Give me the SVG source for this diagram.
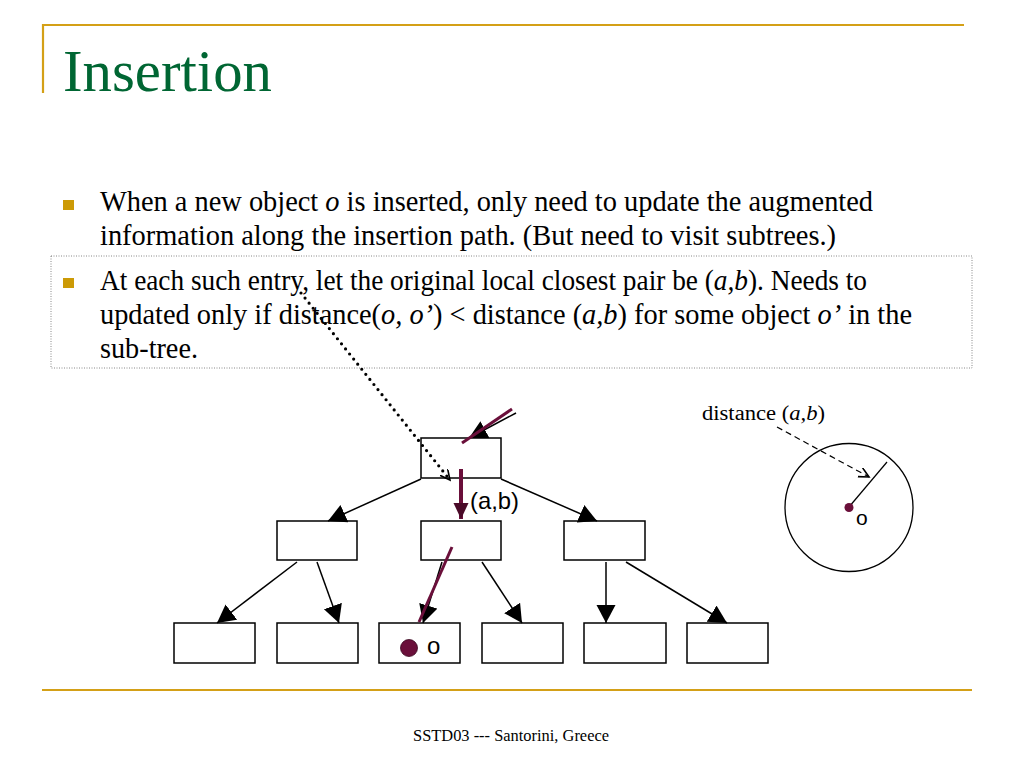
<svg xmlns="http://www.w3.org/2000/svg" width="1024" height="768" viewBox="0 0 1024 768">
<style>
.rule{stroke:#d4a017;stroke-width:2.2;fill:none}
.body{font-family:"Liberation Serif","Times New Roman",serif;font-size:30px;fill:#000}
.bul{fill:#cc9a06}
.box{fill:#fff;stroke:#000;stroke-width:1.5}
.edge{stroke:#000;stroke-width:1.5;fill:none}
.mar{stroke:#6a0f3a;fill:none}
.sans{font-family:"Liberation Sans",Arial,sans-serif;fill:#000}
</style>
<defs>
<marker id="tri" markerUnits="userSpaceOnUse" markerWidth="19" markerHeight="20" refX="18" refY="9.5" orient="auto" viewBox="0 0 19 20">
<path d="M0,0 L18,9.5 L0,19 z" fill="#000"/>
</marker>
<marker id="triM" markerUnits="userSpaceOnUse" markerWidth="18" markerHeight="16" refX="16" refY="7.5" orient="auto" viewBox="0 0 18 16">
<path d="M0,0 L16,7.5 L0,15 z" fill="#4a0a28"/>
</marker>
<marker id="open" markerUnits="userSpaceOnUse" markerWidth="12" markerHeight="12" refX="10" refY="5" orient="auto" viewBox="0 0 12 12">
<path d="M0,0 L10,5 L0,10" fill="none" stroke="#000" stroke-width="1.6"/>
</marker>
</defs>
<rect width="1024" height="768" fill="#fff"/>

<g id="frame">
<line class="rule" x1="42" y1="25" x2="964" y2="25"/>
<line class="rule" x1="43" y1="24" x2="43" y2="93"/>
<line class="rule" x1="42" y1="690" x2="972" y2="690"/>
<text x="63" y="91" font-family="'Liberation Serif','Times New Roman',serif" font-size="60" fill="#006633" textLength="209" lengthAdjust="spacingAndGlyphs">Insertion</text>
<text x="511" y="741" font-family="'Liberation Serif','Times New Roman',serif" font-size="16" fill="#000" text-anchor="middle" textLength="196" lengthAdjust="spacingAndGlyphs">SSTD03 --- Santorini, Greece</text>
</g>

<g id="bullets">
<rect class="bul" x="63" y="200" width="11" height="10"/>
<rect class="bul" x="63" y="278" width="11" height="10"/>
<rect x="51" y="256" width="921" height="112" fill="none" stroke="#888" stroke-width="1" stroke-dasharray="1 1.5"/>
<text class="body" x="100" y="211" textLength="773" lengthAdjust="spacingAndGlyphs">When a new object <tspan font-style="italic">o</tspan> is inserted, only need to update the augmented</text>
<text class="body" x="100" y="245" textLength="736" lengthAdjust="spacingAndGlyphs">information along the insertion path. (But need to visit subtrees.)</text>
<text class="body" x="100" y="290" textLength="767" lengthAdjust="spacingAndGlyphs">At each such entry, let the original local closest pair be (<tspan font-style="italic">a,b</tspan>). Needs to</text>
<text class="body" x="100" y="324" textLength="812" lengthAdjust="spacingAndGlyphs">updated only if distance(<tspan font-style="italic">o, o’</tspan>) &lt; distance (<tspan font-style="italic">a,b</tspan>) for some object <tspan font-style="italic">o’</tspan> in the</text>
<text class="body" x="100" y="358" textLength="98" lengthAdjust="spacingAndGlyphs">sub-tree.</text>
</g>

<g id="root"><rect class="box" x="421" y="438" width="80" height="40"/></g>
<g id="mid-left"><rect class="box" x="277" y="521" width="80" height="39"/></g>
<g id="mid-center"><rect class="box" x="421" y="521" width="80" height="39"/></g>
<g id="mid-right"><rect class="box" x="564" y="521" width="81" height="39"/></g>
<g id="leaf1"><rect class="box" x="174" y="623" width="81" height="40"/></g>
<g id="leaf2"><rect class="box" x="277" y="623" width="81" height="40"/></g>
<g id="leaf3"><rect class="box" x="379" y="623" width="81" height="40"/>
<circle cx="409" cy="648" r="8.5" fill="#6a0f3a" stroke="#3a0820" stroke-width="0.8"/>
<text class="sans" x="427" y="654" font-size="24">o</text></g>
<g id="leaf4"><rect class="box" x="482" y="623" width="81" height="40"/></g>
<g id="leaf5"><rect class="box" x="584" y="623" width="82" height="40"/></g>
<g id="leaf6"><rect class="box" x="687" y="623" width="81" height="40"/></g>

<g id="circle-node">
<circle cx="849" cy="507.5" r="64" fill="none" stroke="#000" stroke-width="1.3"/>
<line x1="849" y1="507" x2="887" y2="462" stroke="#000" stroke-width="1.2"/>
<circle cx="849" cy="507.5" r="4.5" fill="#6a0f3a"/>
<text class="sans" x="856" y="525" font-size="21">o</text>
<text x="702" y="420" font-family="'Liberation Serif','Times New Roman',serif" font-size="20" fill="#000" textLength="123" lengthAdjust="spacingAndGlyphs">distance (<tspan font-style="italic">a,b</tspan>)</text>
</g>

<g id="connectors">
<line class="edge" x1="421" y1="479" x2="328" y2="521" marker-end="url(#tri)"/>
<line class="edge" x1="501" y1="479" x2="597" y2="521" marker-end="url(#tri)"/>
<line class="edge" x1="297" y1="562" x2="217" y2="623" marker-end="url(#tri)"/>
<line class="edge" x1="317" y1="562" x2="339" y2="623" marker-end="url(#tri)"/>
<line class="edge" x1="442" y1="562" x2="423" y2="623" marker-end="url(#tri)"/>
<line class="edge" x1="482" y1="562" x2="522" y2="623" marker-end="url(#tri)"/>
<line class="edge" x1="606" y1="562" x2="606" y2="623" marker-end="url(#tri)"/>
<line class="edge" x1="626" y1="562" x2="727" y2="623" marker-end="url(#tri)"/>
<line class="edge" x1="516" y1="413" x2="469" y2="438" marker-end="url(#tri)"/>
<line class="mar" x1="512" y1="409" x2="462" y2="443" stroke-width="3"/>
<line class="mar" x1="461" y1="469" x2="461" y2="519" stroke-width="4" marker-end="url(#triM)"/>
<line class="mar" x1="452" y1="547" x2="419" y2="622" stroke-width="3"/>
<line x1="301" y1="293" x2="450" y2="480" stroke="#000" stroke-width="3.2" stroke-linecap="round" stroke-dasharray="0 6.5" marker-end="url(#open)"/>
<line x1="777" y1="427" x2="869" y2="477" stroke="#000" stroke-width="1.2" stroke-dasharray="6 4" marker-end="url(#open)"/>
<text class="sans" x="470" y="509" font-size="24" textLength="49" lengthAdjust="spacingAndGlyphs">(a,b)</text>
</g>
</svg>
